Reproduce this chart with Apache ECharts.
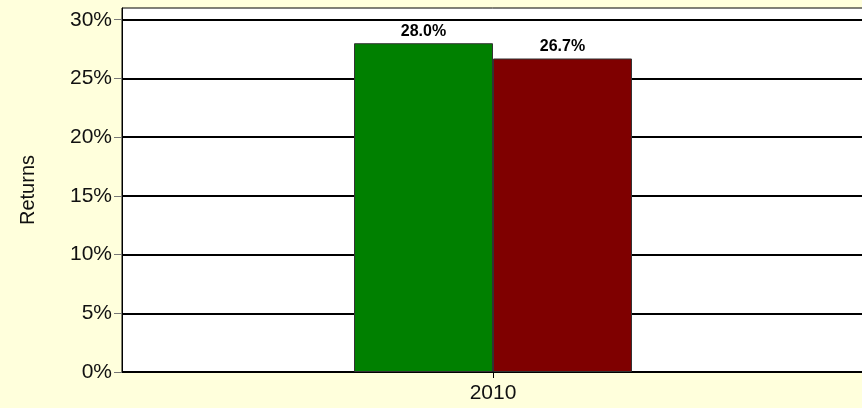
<!DOCTYPE html>
<html>
<head>
<meta charset="utf-8">
<script src="https://cdn.jsdelivr.net/npm/echarts@6/dist/echarts.min.js"></script>
<style>
html,body{margin:0;padding:0;background:#FFFFDC;}
#chart{width:862px;height:408px;}
</style>
</head>
<body>
<div id="chart"></div>
<script>
const categories = ['2010'];
const seriesNames = ['Series A', 'Series B'];
const seriesA = [28.0];
const seriesB = [26.7];
const yTicks = [0, 5, 10, 15, 20, 25, 30];
const colors = ['#008000', '#7F0000'];

const chart = echarts.init(document.getElementById('chart'));
const font = 'Liberation Sans, Arial, sans-serif';
chart.setOption({
  backgroundColor: '#FFFFDC',
  animation: false,
  grid: {
    left: 122, top: 8, width: 742, height: 364,
    outerBoundsMode: 'none', containLabel: false,
    show: true, backgroundColor: '#FFFFFF', borderColor: '#000000', borderWidth: 1
  },
  xAxis: {
    type: 'category',
    data: categories,
    axisLine: { lineStyle: { color: '#000', width: 1 } },
    axisTick: { show: true, alignWithLabel: true, length: 6, lineStyle: { color: '#000' } },
    axisLabel: { color: '#111', fontFamily: font, fontSize: 21, margin: 11 }
  },
  yAxis: {
    type: 'value',
    min: 0, max: 31, interval: 5,
    name: 'Returns',
    nameLocation: 'middle',
    nameGap: 84,
    nameTextStyle: { color: '#111', fontFamily: font, fontSize: 20 },
    axisLine: { show: true, lineStyle: { color: '#000' } },
    axisTick: { show: true, length: 8, customValues: yTicks, lineStyle: { color: '#777' } },
    axisLabel: {
      customValues: yTicks,
      color: '#111', fontFamily: font, fontSize: 21, margin: 10,
      formatter: v => v + '%'
    },
    splitLine: { show: true, lineStyle: { color: '#000', width: 2 } }
  },
  series: [
    {
      name: seriesNames[0], type: 'bar', data: seriesA,
      barWidth: 139, barGap: '0%',
      itemStyle: { color: colors[0], borderColor: '#333', borderWidth: 1 },
      label: { show: true, position: 'top', distance: 4, formatter: p => p.value.toFixed(1) + '%',
               color: '#000', fontWeight: 'bold', fontFamily: font, fontSize: 16 }
    },
    {
      name: seriesNames[1], type: 'bar', data: seriesB,
      barWidth: 139, barGap: '0%',
      itemStyle: { color: colors[1], borderColor: '#333', borderWidth: 1 },
      label: { show: true, position: 'top', distance: 4, formatter: p => p.value.toFixed(1) + '%',
               color: '#000', fontWeight: 'bold', fontFamily: font, fontSize: 16 }
    }
  ]
});
</script>
</body>
</html>
